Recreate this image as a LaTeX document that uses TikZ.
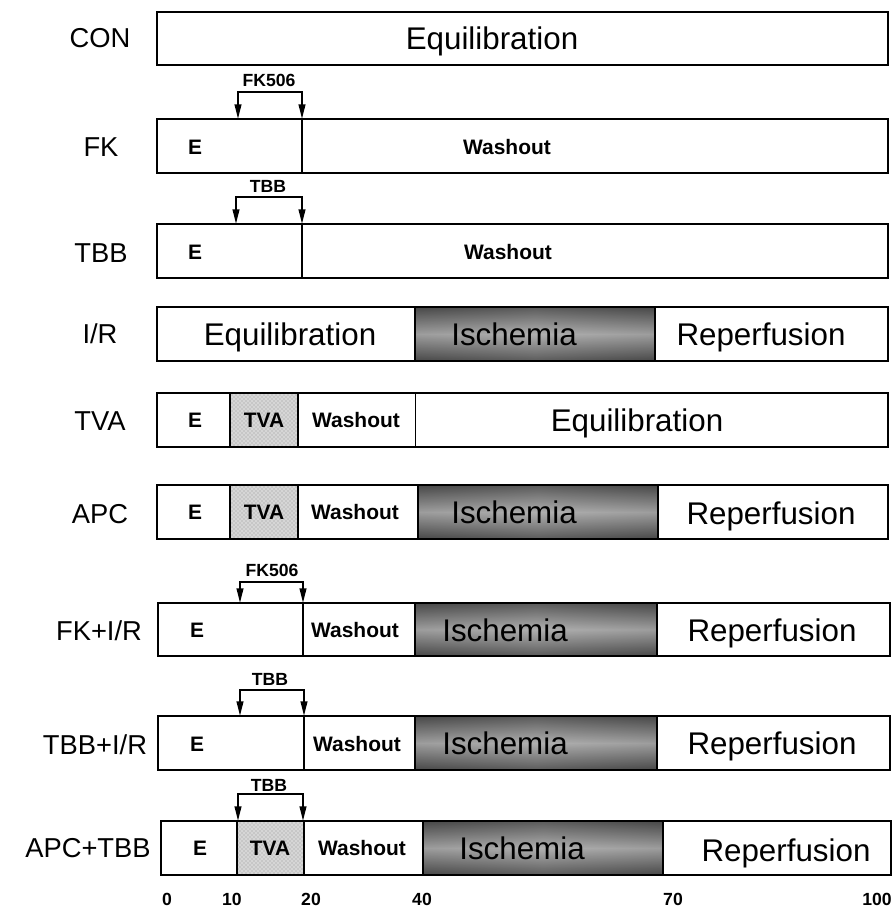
\documentclass[tikz,border=0pt]{standalone}
\usepackage{fontspec}
\setmainfont{Liberation Sans}
\usetikzlibrary{arrows.meta,patterns}
\newcommand\ischfill[4]{%
  \shade[top color=black!72,bottom color=black!72,middle color=black!33] (#1,#2) rectangle (#3,#4);
  \shade[left color=black!70,right color=black!70,middle color=black!20,fill opacity=0.15] (#1,#2) rectangle (#3,#4);
  \draw[line width=1pt] (#1,#2) rectangle (#3,#4);}
\newcommand\tvafill[4]{%
  \fill[black!16] (#1,#2) rectangle (#3,#4);
  \fill[pattern=crosshatch dots,pattern color=black!40] (#1,#2) rectangle (#3,#4);
  \draw[line width=1pt] (#1,#2) rectangle (#3,#4);}
\begin{document}
\begin{tikzpicture}[x=0.75pt,y=-0.75pt,
  rowlbl/.style={inner sep=0pt,text height=14.7pt,text depth=0pt,font=\fontsize{20.5}{20.5}\selectfont},
  big/.style={inner sep=0pt,text height=16.8pt,text depth=0pt,font=\fontsize{23.5}{23.5}\selectfont},
  mid/.style={inner sep=0pt,text height=11.2pt,text depth=0pt,font=\bfseries\fontsize{15.7}{15.7}\selectfont},
  small/.style={inner sep=0pt,text height=9.4pt,text depth=0pt,font=\bfseries\fontsize{13.2}{13.2}\selectfont},
  frame/.style={line width=1.6pt},
  divthick/.style={line width=1.5pt},
  divthin/.style={line width=0.7pt},
  brk/.style={line width=1.4pt,{Triangle[length=11pt,width=5pt]}-{Triangle[length=11pt,width=5pt]}}]
\useasboundingbox (0,0) rectangle (893,911);

% ---------- CON
\draw[frame] (157,12) rectangle (888,65);
\node[rowlbl] (lcon) at (100,38) {CON};
\node[big] (con-eq) at (492,38) {Equilibration};

% ---------- FK
\draw[frame] (157,119) rectangle (888,173);
\draw[divthick] (302,119) -- (302,173);
\node[rowlbl] (lfk) at (101,147) {FK};
\node[mid] (fk-e) at (195,147) {E};
\node[mid] (fk-w) at (507,147) {Washout};
\node[small] (fk-drug) at (269,80) {FK506};
\coordinate (fkL) at (238,119);
\coordinate (fkR) at (302,119);
\draw[brk] (fkL) -- ++(0,-27) -| (fkR);

% ---------- TBB
\draw[frame] (157,224) rectangle (888,278);
\draw[divthick] (302,224) -- (302,278);
\node[rowlbl] (ltbb) at (101,253) {TBB};
\node[mid] (tbb-e) at (195,252) {E};
\node[mid] (tbb-w) at (508,252) {Washout};
\node[small] (tbb-drug) at (268,186) {TBB};
\coordinate (tbbL) at (236,224);
\coordinate (tbbR) at (302,224);
\draw[brk] (tbbL) -- ++(0,-27) -| (tbbR);

% ---------- I/R
\ischfill{415}{307}{655}{361}
\draw[frame] (157,307) rectangle (888,361);
\node[rowlbl] (lir) at (100,334) {I/R};
\node[big] (ir-eq) at (290,334) {Equilibration};
\node[big] (ir-is) at (514,334) {Ischemia};
\node[big] (ir-re) at (761,334) {Reperfusion};

% ---------- TVA
\tvafill{230}{393}{298}{447}
\draw[divthin] (415,393) -- (415,447);
\draw[frame] (157,393) rectangle (888,447);
\node[rowlbl] (ltva) at (100,421) {TVA};
\node[mid] (tva-e) at (195,420) {E};
\node[mid] (tva-t) at (264,420) {TVA};
\node[mid] (tva-w) at (356,420) {Washout};
\node[big] (tva-eq) at (637,420) {Equilibration};

% ---------- APC
\tvafill{230}{485}{298}{539}
\ischfill{418}{485}{658}{539}
\draw[frame] (157,485) rectangle (888,539);
\node[rowlbl] (lapc) at (100,514) {APC};
\node[mid] (apc-e) at (195,512) {E};
\node[mid] (apc-t) at (264,512) {TVA};
\node[mid] (apc-w) at (355,512) {Washout};
\node[big] (apc-is) at (514,512) {Ischemia};
\node[big] (apc-re) at (771,513) {Reperfusion};

% ---------- FK+I/R
\ischfill{415}{603}{657}{656}
\draw[frame] (158,603) rectangle (890,656);
\draw[divthick] (303,603) -- (303,656);
\node[rowlbl] (lfkir) at (99,631) {FK+I/R};
\node[mid] (fkir-e) at (197,630) {E};
\node[mid] (fkir-w) at (355,630) {Washout};
\node[big] (fkir-is) at (505,630) {Ischemia};
\node[big] (fkir-re) at (772,630) {Reperfusion};
\node[small] (fkir-drug) at (272,570) {FK506};
\coordinate (fkirL) at (240,603);
\coordinate (fkirR) at (303,603);
\draw[brk] (fkirL) -- ++(0,-21) -| (fkirR);

% ---------- TBB+I/R
\ischfill{415}{716}{657}{770}
\draw[frame] (158,716) rectangle (890,770);
\draw[divthick] (304,716) -- (304,770);
\node[rowlbl] (ltbbir) at (95,745) {TBB+I/R};
\node[mid] (tbbir-e) at (197,744) {E};
\node[mid] (tbbir-w) at (357,744) {Washout};
\node[big] (tbbir-is) at (505,743) {Ischemia};
\node[big] (tbbir-re) at (772,743) {Reperfusion};
\node[small] (tbbir-drug) at (270,679) {TBB};
\coordinate (tbbirL) at (240,716);
\coordinate (tbbirR) at (304,716);
\draw[brk] (tbbirL) -- ++(0,-26) -| (tbbirR);

% ---------- APC+TBB
\tvafill{237}{821}{304}{875}
\ischfill{423}{821}{663}{875}
\draw[frame] (161,821) rectangle (891,875);
\node[rowlbl] (lapctbb) at (88,848) {APC+TBB};
\node[mid] (apctbb-e) at (200,848) {E};
\node[mid] (apctbb-t) at (270,848) {TVA};
\node[mid] (apctbb-w) at (362,848) {Washout};
\node[big] (apctbb-is) at (522,848) {Ischemia};
\node[big] (apctbb-re) at (786,850) {Reperfusion};
\node[small] (apctbb-drug) at (269,785) {TBB};
\coordinate (apctbbL) at (238,821);
\coordinate (apctbbR) at (303,821);
\draw[brk] (apctbbL) -- ++(0,-27) -| (apctbbR);

% ---------- axis labels
\node[small] (t0) at (167,899) {0};
\node[small] (t10) at (232,899) {10};
\node[small] (t20) at (311,899) {20};
\node[small] (t40) at (422,899) {40};
\node[small] (t70) at (673,899) {70};
\node[small] (t100) at (877,899) {100};
\end{tikzpicture}
\end{document}
